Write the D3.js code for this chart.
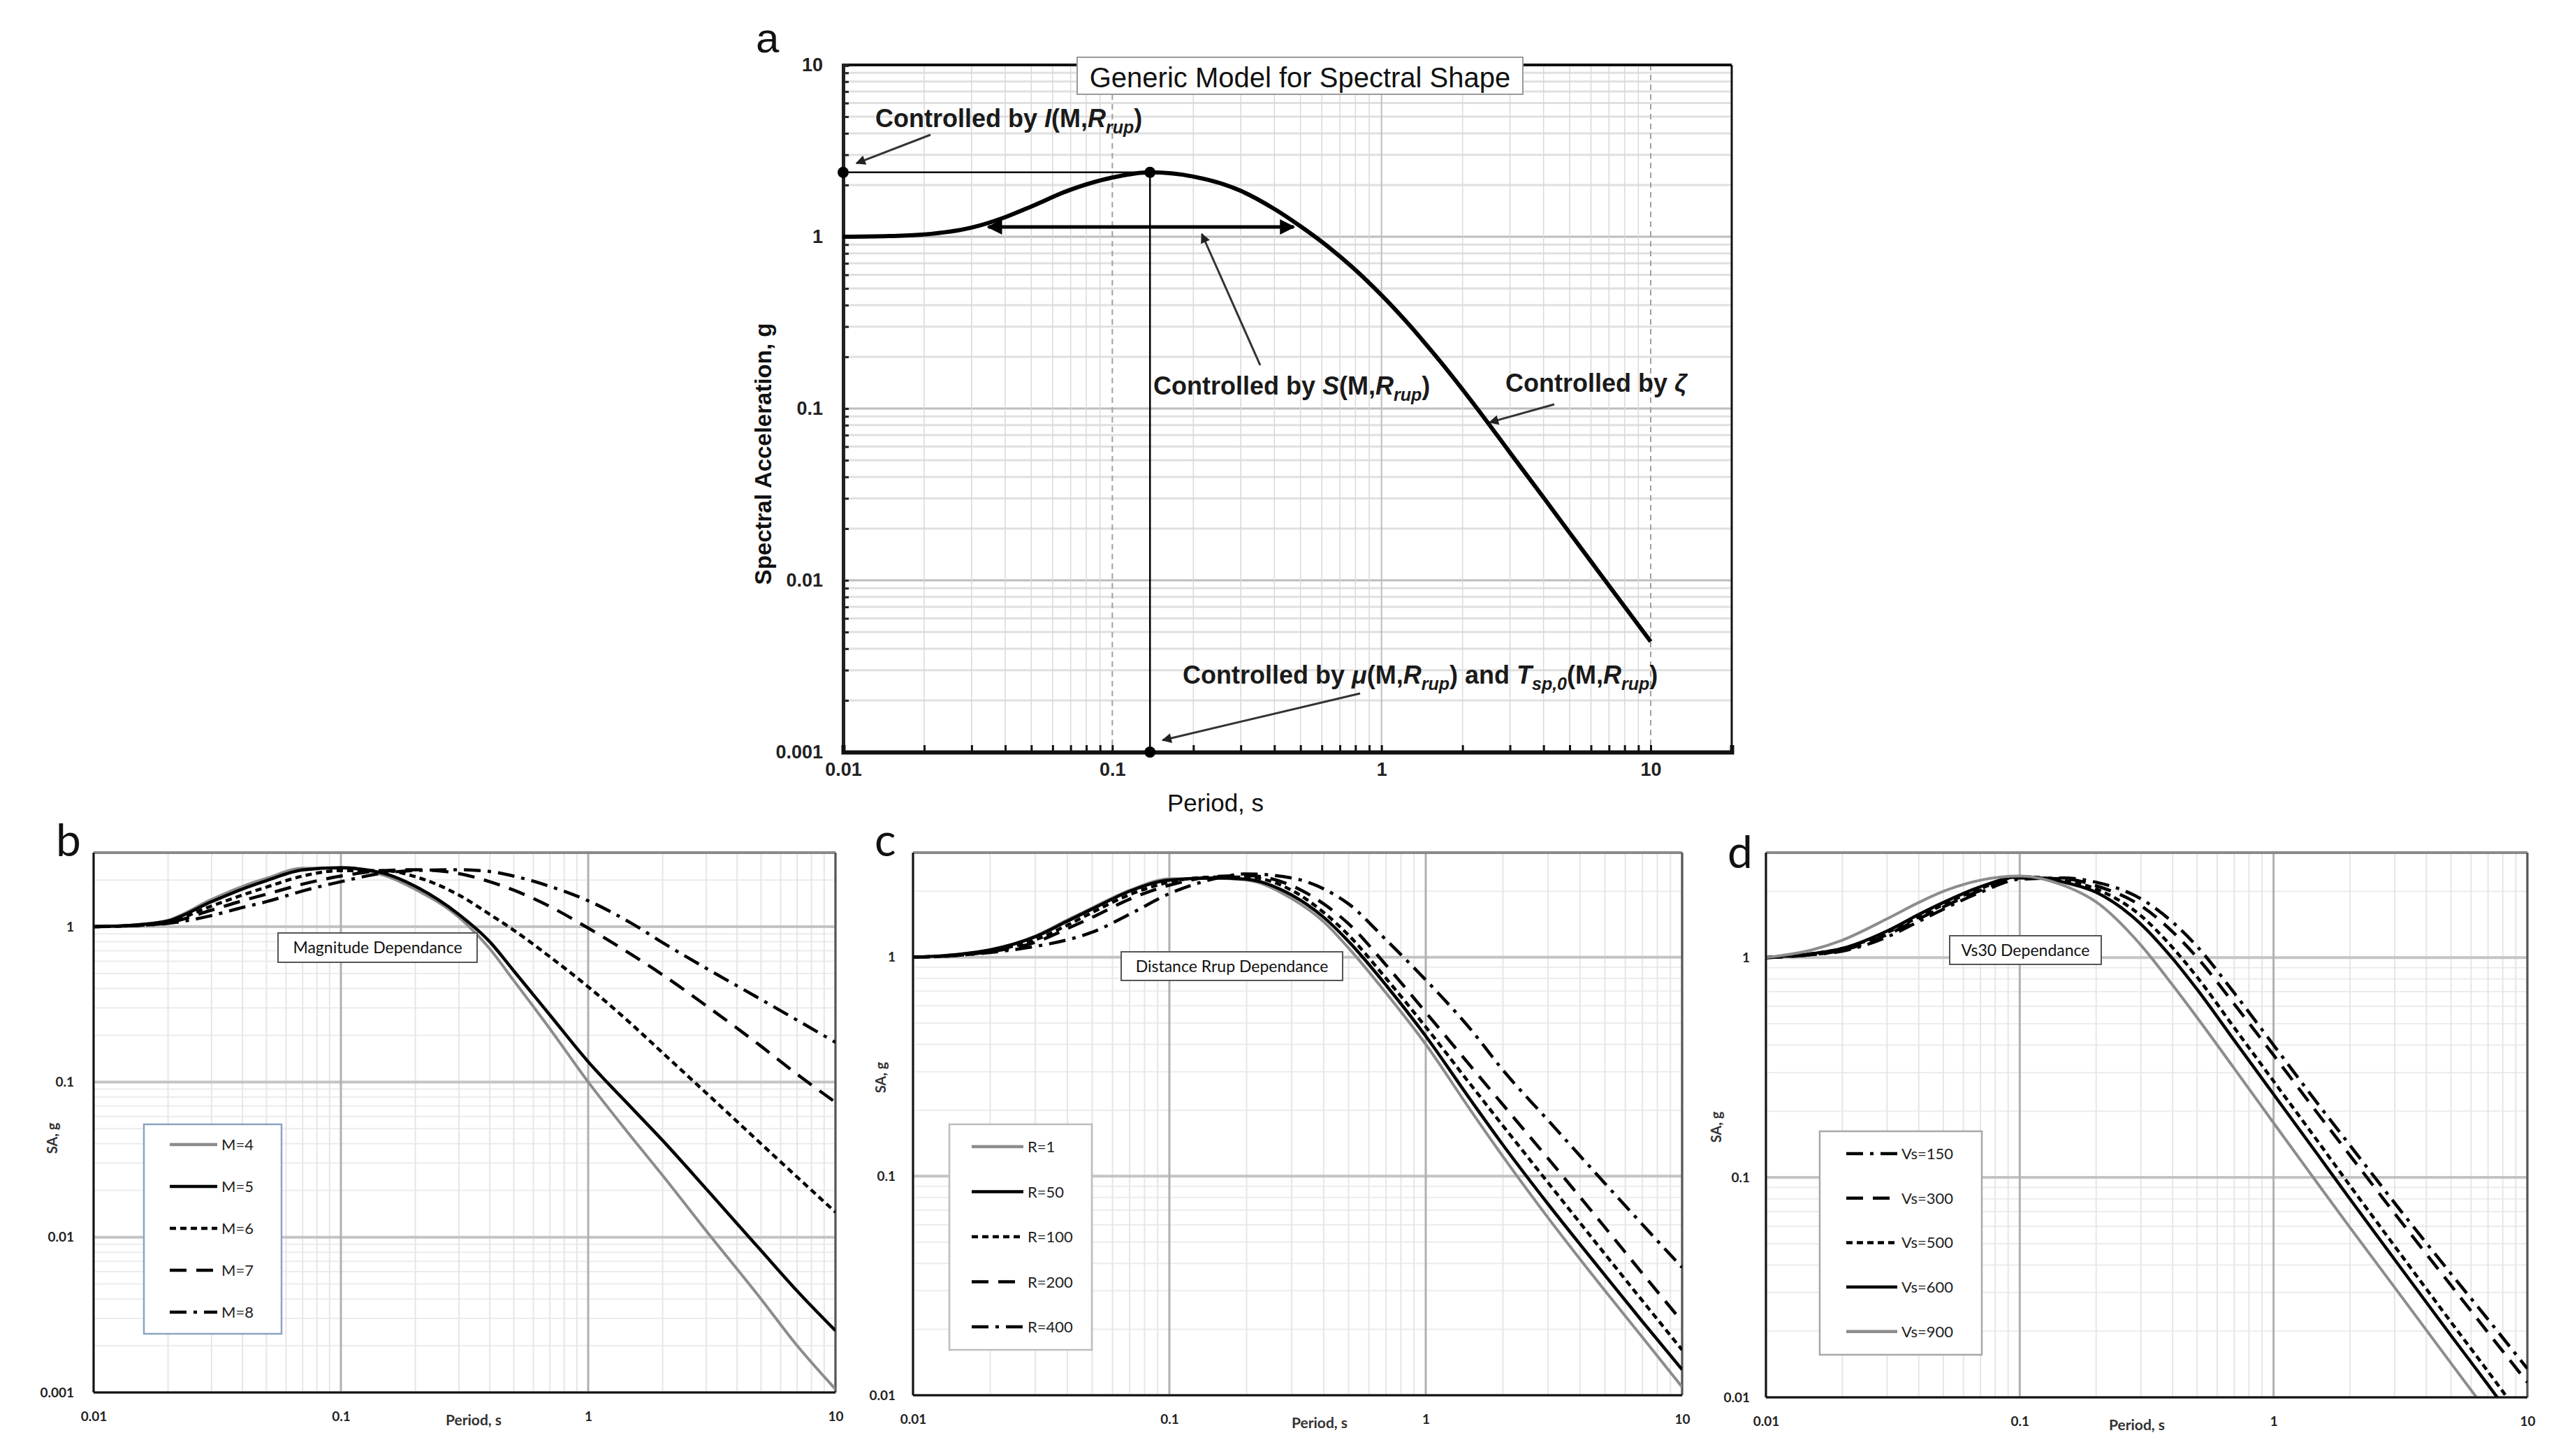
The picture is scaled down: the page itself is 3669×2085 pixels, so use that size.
<!DOCTYPE html>
<html>
<head>
<meta charset="utf-8">
<script src="https://cdn.jsdelivr.net/npm/d3@7"></script>
<style>
  html, body { margin: 0; padding: 0; background: #fff; }
  svg { display: block; }
</style>
</head>
<body>
<svg id="chart" width="3669" height="2085"></svg>
<script>
// ---- panel a : generic model ----
const periodA = [0.01, 0.015, 0.02, 0.03, 0.04, 0.05, 0.07, 0.1, 0.138, 0.2, 0.3, 0.4, 0.5, 0.63, 0.78, 1, 1.22, 1.7, 2.3, 3, 4, 5, 7, 10]
const saA = [1.0, 1.01, 1.03, 1.13, 1.3, 1.5, 1.88, 2.21, 2.37, 2.24, 1.85, 1.45, 1.15, 0.88, 0.664, 0.457, 0.328, 0.178, 0.097, 0.0554, 0.0303, 0.0189, 0.0093, 0.0044]
const peakA = [0.138, 2.37]              // period, SA of the peak
const spreadA = [0.0346, 0.472, 1.14]    // double arrow: from, to, SA level
const xTicksA = [0.01, 0.1, 1, 10]
const xTickTextA = ['0.01', '0.1', '1', '10']
const yTicksA = [0.001, 0.01, 0.1, 1, 10]
const yTickTextA = ['0.001', '0.01', '0.1', '1', '10']

// ---- panels b, c, d ----
const periods = [0.01, 0.015, 0.02, 0.03, 0.04, 0.05, 0.07, 0.1, 0.15, 0.2, 0.3, 0.4, 0.5, 0.7, 1, 1.5, 2, 3, 5, 7, 10]

const magNames = ['M=4', 'M=5', 'M=6', 'M=7', 'M=8']
const saM4 = [1.0, 1.03, 1.1, 1.5, 1.82, 2.05, 2.38, 2.38, 2.14, 1.74, 1.15, 0.72, 0.45, 0.22, 0.1, 0.044, 0.025, 0.011, 0.004, 0.002, 0.00105]
const saM5 = [1.0, 1.03, 1.09, 1.45, 1.75, 1.98, 2.32, 2.4, 2.2, 1.82, 1.2, 0.8, 0.52, 0.27, 0.135, 0.068, 0.042, 0.0205, 0.0082, 0.0045, 0.0025]
const saM6 = [1.0, 1.02, 1.07, 1.36, 1.6, 1.8, 2.12, 2.3, 2.3, 2.1, 1.6, 1.2, 0.95, 0.64, 0.41, 0.235, 0.154, 0.085, 0.04, 0.0244, 0.0145]
const saM7 = [1.0, 1.02, 1.06, 1.28, 1.47, 1.62, 1.88, 2.12, 2.3, 2.33, 2.2, 1.95, 1.72, 1.35, 0.98, 0.66, 0.49, 0.31, 0.17, 0.112, 0.074]
const saM8 = [1.0, 1.02, 1.05, 1.18, 1.33, 1.45, 1.7, 1.95, 2.22, 2.3, 2.33, 2.27, 2.12, 1.82, 1.47, 1.05, 0.79, 0.54, 0.34, 0.25, 0.18]

const distNames = ['R=1', 'R=50', 'R=100', 'R=200', 'R=400']
const saR1 = [1.0, 1.03, 1.08, 1.25, 1.48, 1.68, 2.02, 2.28, 2.29, 2.25, 1.85, 1.45, 1.1, 0.686, 0.4, 0.199, 0.123, 0.0646, 0.03, 0.0184, 0.0109]
const saR50 = [1.0, 1.03, 1.08, 1.24, 1.46, 1.66, 2.0, 2.25, 2.3, 2.27, 1.92, 1.52, 1.18, 0.745, 0.436, 0.222, 0.139, 0.0746, 0.0353, 0.0217, 0.0131]
const saR100 = [1.0, 1.02, 1.07, 1.2, 1.4, 1.6, 1.93, 2.2, 2.32, 2.32, 2.02, 1.6, 1.26, 0.8, 0.48, 0.261, 0.17, 0.0934, 0.0441, 0.027, 0.0161]
const saR200 = [1.0, 1.02, 1.06, 1.17, 1.35, 1.52, 1.84, 2.13, 2.33, 2.36, 2.12, 1.75, 1.42, 0.92, 0.56, 0.317, 0.212, 0.1205, 0.0584, 0.036, 0.0217]
const saR400 = [1.0, 1.02, 1.05, 1.12, 1.2, 1.3, 1.57, 1.95, 2.28, 2.4, 2.3, 2.05, 1.75, 1.2, 0.787, 0.467, 0.305, 0.18, 0.0927, 0.0602, 0.0383]

const vsNames = ['Vs=150', 'Vs=300', 'Vs=500', 'Vs=600', 'Vs=900']
const saVs150 = [1.0, 1.03, 1.07, 1.24, 1.46, 1.66, 1.98, 2.27, 2.3, 2.2, 1.85, 1.45, 1.123, 0.69, 0.4, 0.215, 0.14, 0.0765, 0.0365, 0.0226, 0.0135]
const saVs300 = [1.0, 1.03, 1.08, 1.27, 1.5, 1.7, 2.02, 2.3, 2.28, 2.12, 1.72, 1.31, 1.0, 0.614, 0.36, 0.194, 0.126, 0.0686, 0.0323, 0.0197, 0.0117]
const saVs500 = [1.0, 1.04, 1.1, 1.3, 1.53, 1.74, 2.06, 2.33, 2.24, 2.05, 1.55, 1.11, 0.815, 0.48, 0.274, 0.145, 0.0918, 0.0487, 0.022, 0.0131, 0.0075]
const saVs600 = [1.0, 1.04, 1.1, 1.32, 1.57, 1.78, 2.1, 2.33, 2.2, 1.98, 1.42, 0.99, 0.716, 0.42, 0.239, 0.126, 0.0798, 0.0423, 0.0191, 0.0114, 0.0065]
const saVs900 = [1.0, 1.08, 1.2, 1.5, 1.78, 2.0, 2.25, 2.35, 2.12, 1.79, 1.14, 0.75, 0.533, 0.313, 0.177, 0.093, 0.0592, 0.0316, 0.0143, 0.0085, 0.0049]

const xTicks = [0.01, 0.1, 1, 10]
const xTickText = ['0.01', '0.1', '1', '10']

// line look for each series kind
const looks = {
  gray:    { stroke: '#8c8c8c', dash: null },
  black:   { stroke: '#000', dash: null },
  short:   { stroke: '#000', dash: '9,6' },
  long:    { stroke: '#000', dash: '24,14' },
  dashdot: { stroke: '#000', dash: '24,10,5,10' }
}

const svg = d3.select('#chart')
const isMajor = v => Math.abs(Math.log10(v) - Math.round(Math.log10(v))) < 1e-6
const defs = svg.append('defs')

defs.append('marker').attr('id', 'tip')
  .attr('viewBox', '0 0 10 10').attr('refX', 9).attr('refY', 5)
  .attr('markerWidth', 18).attr('markerHeight', 14)
  .attr('markerUnits', 'userSpaceOnUse').attr('orient', 'auto')
  .append('path').attr('d', 'M0,0 L10,5 L0,10 z').attr('fill', '#222')

defs.append('marker').attr('id', 'bigtip')
  .attr('viewBox', '0 0 10 10').attr('refX', 9).attr('refY', 5)
  .attr('markerWidth', 28).attr('markerHeight', 22)
  .attr('markerUnits', 'userSpaceOnUse').attr('orient', 'auto-start-reverse')
  .append('path').attr('d', 'M0,0 L10,5 L0,10 z').attr('fill', '#000')

// ================= panel a =================
const A = { left: 1207, right: 2479, top: 93, bottom: 1077 }
const ax = d3.scaleLog().domain([0.01, 20]).range([A.left, A.right])
const ay = d3.scaleLog().domain([0.001, 10]).range([A.bottom, A.top])
const ga = svg.append('g')

// horizontal grid
ga.append('g').selectAll('line').data(ay.ticks()).join('line')
  .attr('x1', A.left).attr('x2', A.right)
  .attr('y1', d => ay(d)).attr('y2', d => ay(d))
  .attr('stroke', d => isMajor(d) ? '#bdbdbd' : '#e0e0e0')
  .attr('stroke-width', 3)

// vertical grid
ga.append('g').selectAll('line').data(ax.ticks()).join('line')
  .attr('x1', d => ax(d)).attr('x2', d => ax(d))
  .attr('y1', A.top).attr('y2', A.bottom)
  .attr('stroke', d => isMajor(d) ? (d === 1 ? '#bdbdbd' : '#a0a0a0') : '#d9d9d9')
  .attr('stroke-width', d => isMajor(d) ? 2 : 1.5)
  .attr('stroke-dasharray', d => (isMajor(d) && d !== 1) ? '8,6' : null)

// frame
ga.append('line').attr('x1', A.left).attr('x2', A.right).attr('y1', A.top).attr('y2', A.top)
  .attr('stroke', '#111').attr('stroke-width', 4)
ga.append('line').attr('x1', A.right).attr('x2', A.right).attr('y1', A.top).attr('y2', A.bottom)
  .attr('stroke', '#111').attr('stroke-width', 3)

// left axis with inner minor ticks
const leftA = ga.append('g').attr('transform', `translate(${A.left},0)`)
  .call(d3.axisRight(ay).tickValues(ay.ticks()).tickSize(8).tickFormat(''))
leftA.select('.domain').attr('stroke', '#222').attr('stroke-width', 5)
leftA.selectAll('.tick line').attr('stroke', '#222').attr('stroke-width', 3)

// bottom axis with inner minor ticks
const botA = ga.append('g').attr('transform', `translate(0,${A.bottom})`)
  .call(d3.axisTop(ax).tickValues(ax.ticks()).tickSize(10).tickFormat(''))
botA.select('.domain').attr('stroke', '#111').attr('stroke-width', 6)
botA.selectAll('.tick line').attr('stroke', '#111').attr('stroke-width', 3)

// tick labels
const yLabA = ga.append('g').attr('transform', `translate(${A.left},0)`)
  .call(d3.axisLeft(ay).tickValues(yTicksA).tickFormat((d, i) => yTickTextA[i]).tickSize(0).tickPadding(29))
yLabA.select('.domain').remove()
yLabA.selectAll('text').attr('font-family', 'Liberation Sans, Arial, sans-serif')
  .attr('font-size', 27).attr('font-weight', 'bold').attr('fill', '#222')

const xLabA = ga.append('g').attr('transform', `translate(0,${A.bottom})`)
  .call(d3.axisBottom(ax).tickValues(xTicksA).tickFormat((d, i) => xTickTextA[i]).tickSize(0).tickPadding(15))
xLabA.select('.domain').remove()
xLabA.selectAll('text').attr('font-family', 'Liberation Sans, Arial, sans-serif')
  .attr('font-size', 27).attr('font-weight', 'bold').attr('fill', '#222')

// axis titles
ga.append('text').attr('x', 1740).attr('y', 1162).attr('text-anchor', 'middle')
  .attr('font-family', 'Liberation Sans, Arial, sans-serif').attr('font-size', 35)
  .attr('fill', '#111').text('Period, s')
ga.append('text').attr('transform', 'translate(1104,650) rotate(-90)').attr('text-anchor', 'middle')
  .attr('font-family', 'Liberation Sans, Arial, sans-serif').attr('font-size', 33).attr('font-weight', 'bold')
  .attr('fill', '#111').text('Spectral Acceleration, g')

// peak guide lines
ga.append('line')
  .attr('x1', ax(0.01)).attr('x2', ax(peakA[0]))
  .attr('y1', ay(peakA[1])).attr('y2', ay(peakA[1]))
  .attr('stroke', '#000').attr('stroke-width', 2.5)
ga.append('line')
  .attr('x1', ax(peakA[0])).attr('x2', ax(peakA[0]))
  .attr('y1', ay(peakA[1])).attr('y2', ay(0.001))
  .attr('stroke', '#000').attr('stroke-width', 2.5)

// spectral shape
const lineA = d3.line().x(d => ax(d[0])).y(d => ay(d[1])).curve(d3.curveMonotoneX)
ga.append('path').datum(d3.zip(periodA, saA)).attr('d', lineA)
  .attr('fill', 'none').attr('stroke', '#000').attr('stroke-width', 6)
  .attr('stroke-linejoin', 'round')

// width double arrow
ga.append('line')
  .attr('x1', ax(spreadA[0])).attr('x2', ax(spreadA[1]))
  .attr('y1', ay(spreadA[2])).attr('y2', ay(spreadA[2]))
  .attr('stroke', '#000').attr('stroke-width', 5)
  .attr('marker-start', 'url(#bigtip)').attr('marker-end', 'url(#bigtip)')

// dots
ga.selectAll('.dot').data([[0.01, peakA[1]], peakA, [peakA[0], 0.001]]).join('circle')
  .attr('cx', d => ax(d[0])).attr('cy', d => ay(d[1])).attr('r', 8).attr('fill', '#000')

// annotations
const annFont = 'Liberation Sans, Arial, sans-serif'
function pointer(x1, y1, x2, y2) {
  ga.append('line').attr('x1', x1).attr('y1', y1).attr('x2', x2).attr('y2', y2)
    .attr('stroke', '#333').attr('stroke-width', 3).attr('marker-end', 'url(#tip)')
}
function richText(x, y, parts) {
  const t = ga.append('text').attr('x', x).attr('y', y)
    .attr('font-family', annFont).attr('font-size', 36).attr('font-weight', 'bold').attr('fill', '#1a1a1a')
  let shift = 0
  parts.forEach(p => {
    const s = t.append('tspan').text(p.t)
    if (p.i) s.attr('font-style', 'italic')
    const want = p.sub ? 9 : 0
    if (want !== shift) { s.attr('dy', want - shift); shift = want }
    if (p.sub) s.attr('font-size', 25)
  })
}
const mr = [{ t: '(M,' }, { t: 'R', i: 1 }, { t: 'rup', i: 1, sub: 1 }, { t: ')' }]

richText(1253, 182, [{ t: 'Controlled by ' }, { t: 'I', i: 1 }, ...mr])
pointer(1332, 193, ax(0.01) + 19, ay(peakA[1]) - 13)

richText(1651, 565, [{ t: 'Controlled by ' }, { t: 'S', i: 1 }, ...mr])
pointer(1804, 523, ax(0.215), ay(spreadA[2]) + 10)

richText(2155, 561, [{ t: 'Controlled by ' }, { t: 'ζ', i: 1 }])
pointer(2225, 579, ax(2.52), ay(0.083))

richText(1693, 979, [{ t: 'Controlled by ' }, { t: 'μ', i: 1 }, ...mr, { t: ' and ' },
  { t: 'T', i: 1 }, { t: 'sp,0', i: 1, sub: 1 }, ...mr])
pointer(1947, 993, ax(peakA[0]) + 18, ay(0.001) - 17)

// title box
ga.append('rect').attr('x', 1542).attr('y', 82).attr('width', 638).attr('height', 53)
  .attr('fill', '#fff').attr('stroke', '#9a9a9a').attr('stroke-width', 2)
ga.append('text').attr('x', 1861).attr('y', 125).attr('text-anchor', 'middle')
  .attr('font-family', annFont).attr('font-size', 40).attr('fill', '#111')
  .text('Generic Model for Spectral Shape')

svg.append('text').attr('x', 1082).attr('y', 75)
  .attr('font-family', annFont).attr('font-size', 60).attr('fill', '#111').text('a')

// ================= panels b, c, d =================
const smallFont = 'Lato, Carlito, Calibri, sans-serif'

function drawPanel(p) {
  const x = d3.scaleLog().domain([0.01, 10]).range([p.left, p.right])
  const y = d3.scaleLog().domain(p.yDomain).range([p.bottom, p.top])
  const g = svg.append('g')

  const xt = x.ticks(), yt = y.ticks()
  // minor grid
  g.append('g').selectAll('line').data(yt.filter(v => !isMajor(v))).join('line')
    .attr('x1', p.left).attr('x2', p.right).attr('y1', d => y(d)).attr('y2', d => y(d))
    .attr('stroke', '#ececec').attr('stroke-width', 2)
  g.append('g').selectAll('line').data(xt.filter(v => !isMajor(v))).join('line')
    .attr('x1', d => x(d)).attr('x2', d => x(d)).attr('y1', p.top).attr('y2', p.bottom)
    .attr('stroke', '#e6e6e6').attr('stroke-width', 2)
  // major grid
  g.append('g').selectAll('line').data(yt.filter(isMajor)).join('line')
    .attr('x1', p.left).attr('x2', p.right).attr('y1', d => y(d)).attr('y2', d => y(d))
    .attr('stroke', '#c4c4c4').attr('stroke-width', 4)
  g.append('g').selectAll('line').data(xt.filter(isMajor)).join('line')
    .attr('x1', d => x(d)).attr('x2', d => x(d)).attr('y1', p.top).attr('y2', p.bottom)
    .attr('stroke', '#b0b0b0').attr('stroke-width', 3)

  // frame: grey top/right, black axes
  g.append('line').attr('x1', p.left).attr('x2', p.right).attr('y1', p.top).attr('y2', p.top)
    .attr('stroke', '#8a8a8a').attr('stroke-width', 4)
  g.append('line').attr('x1', p.right).attr('x2', p.right).attr('y1', p.top).attr('y2', p.bottom)
    .attr('stroke', '#555').attr('stroke-width', 3)

  // curves
  const clipId = 'clip-' + p.id
  defs.append('clipPath').attr('id', clipId).append('rect')
    .attr('x', p.left).attr('y', p.top).attr('width', p.right - p.left).attr('height', p.bottom - p.top)
  const line = d3.line().x(d => x(d[0])).y(d => y(d[1])).curve(d3.curveMonotoneX)
  g.append('g').attr('clip-path', `url(#${clipId})`)
    .selectAll('path').data(p.series).join('path')
    .attr('d', s => line(d3.zip(periods, s.values)))
    .attr('fill', 'none')
    .attr('stroke', s => looks[s.look].stroke)
    .attr('stroke-dasharray', s => looks[s.look].dash)
    .attr('stroke-width', s => s.look === 'gray' ? 4 : 4.5)

  // axes
  g.append('line').attr('x1', p.left).attr('x2', p.left).attr('y1', p.top).attr('y2', p.bottom)
    .attr('stroke', '#111').attr('stroke-width', 3)
  g.append('line').attr('x1', p.left).attr('x2', p.right).attr('y1', p.bottom).attr('y2', p.bottom)
    .attr('stroke', '#111').attr('stroke-width', 3)

  const yl = g.append('g').attr('transform', `translate(${p.left},0)`)
    .call(d3.axisLeft(y).tickValues(p.yTicks).tickFormat((d, i) => p.yTickText[i]).tickSize(0).tickPadding(p.yPad))
  yl.select('.domain').remove()
  yl.selectAll('text').attr('font-family', smallFont).attr('font-size', 19).attr('font-weight', 'bold').attr('fill', '#222')

  const xl = g.append('g').attr('transform', `translate(0,${p.bottom})`)
    .call(d3.axisBottom(x).tickValues(xTicks).tickFormat((d, i) => xTickText[i]).tickSize(0).tickPadding(p.xPad))
  xl.select('.domain').remove()
  xl.selectAll('text').attr('font-family', smallFont).attr('font-size', 19).attr('font-weight', 'bold').attr('fill', '#222')

  g.append('text').attr('x', p.periodX).attr('y', p.bottom + 47).attr('text-anchor', 'middle')
    .attr('font-family', smallFont).attr('font-size', 21).attr('font-weight', 'bold').attr('fill', '#333')
    .text('Period, s')
  g.append('text').attr('transform', `translate(${p.saX},${p.saY}) rotate(-90)`).attr('text-anchor', 'middle')
    .attr('font-family', smallFont).attr('font-size', 20).attr('font-weight', 'bold').attr('fill', '#333')
    .text('SA, g')

  // caption box
  const b = p.box
  g.append('rect').attr('x', b.x).attr('y', b.y).attr('width', b.w).attr('height', b.h)
    .attr('fill', '#fff').attr('stroke', '#555').attr('stroke-width', 2)
  g.append('text').attr('x', b.x + b.w / 2).attr('y', b.y + b.h / 2 + 8).attr('text-anchor', 'middle')
    .attr('font-family', smallFont).attr('font-size', 23).attr('fill', '#111').text(b.text)

  // legend
  const L = p.legend
  g.append('rect').attr('x', L.x).attr('y', L.y).attr('width', L.w).attr('height', L.h)
    .attr('fill', '#fff').attr('stroke', L.border).attr('stroke-width', 2.5)
  const items = g.append('g').selectAll('g').data(p.series).join('g')
    .attr('transform', (s, i) => `translate(${L.x + L.lineX},${L.firstY + i * L.step})`)
  items.append('line').attr('x1', 0).attr('x2', L.lineLen).attr('y1', 0).attr('y2', 0)
    .attr('stroke', s => looks[s.look].stroke)
    .attr('stroke-dasharray', s => looks[s.look].dash)
    .attr('stroke-width', 4.5)
  items.append('text').attr('x', L.lineLen + 6).attr('y', 8)
    .attr('font-family', smallFont).attr('font-size', 22).attr('fill', '#222')
    .text(s => s.name)

  svg.append('text').attr('x', p.letter[0]).attr('y', p.letter[1])
    .attr('font-family', smallFont).attr('font-size', 64).attr('fill', '#111').text(p.id)
}

drawPanel({
  id: 'b', left: 134, right: 1196, top: 1221, bottom: 1994, yDomain: [0.001, 3],
  yTicks: [0.001, 0.01, 0.1, 1], yTickText: ['0.001', '0.01', '0.1', '1'], yPad: 28, xPad: 28,
  periodX: 678, saX: 82, saY: 1630, letter: [80, 1226],
  series: [
    { name: magNames[0], values: saM4, look: 'gray' },
    { name: magNames[1], values: saM5, look: 'black' },
    { name: magNames[2], values: saM6, look: 'short' },
    { name: magNames[3], values: saM7, look: 'long' },
    { name: magNames[4], values: saM8, look: 'dashdot' }
  ],
  box: { x: 398, y: 1336, w: 285, h: 42, text: 'Magnitude Dependance' },
  legend: { x: 206, y: 1610, w: 197, h: 300, border: '#8aa4c2', lineX: 37, lineLen: 68, firstY: 1639, step: 60 }
})

drawPanel({
  id: 'c', left: 1307, right: 2408, top: 1221, bottom: 1998, yDomain: [0.01, 3],
  yTicks: [0.01, 0.1, 1], yTickText: ['0.01', '0.1', '1'], yPad: 25, xPad: 28,
  periodX: 1889, saX: 1268, saY: 1543, letter: [1252, 1226],
  series: [
    { name: distNames[0], values: saR1, look: 'gray' },
    { name: distNames[1], values: saR50, look: 'black' },
    { name: distNames[2], values: saR100, look: 'short' },
    { name: distNames[3], values: saR200, look: 'long' },
    { name: distNames[4], values: saR400, look: 'dashdot' }
  ],
  box: { x: 1605, y: 1363, w: 317, h: 41, text: 'Distance Rrup Dependance' },
  legend: { x: 1359, y: 1610, w: 204, h: 323, border: '#bdbdbd', lineX: 32, lineLen: 74, firstY: 1642, step: 64.5 }
})

drawPanel({
  id: 'd', left: 2528, right: 3618, top: 1221, bottom: 2001, yDomain: [0.01, 3],
  yTicks: [0.01, 0.1, 1], yTickText: ['0.01', '0.1', '1'], yPad: 23, xPad: 28,
  periodX: 3059, saX: 2464, saY: 1614, letter: [2473, 1243],
  series: [
    { name: vsNames[0], values: saVs150, look: 'dashdot' },
    { name: vsNames[1], values: saVs300, look: 'long' },
    { name: vsNames[2], values: saVs500, look: 'short' },
    { name: vsNames[3], values: saVs600, look: 'black' },
    { name: vsNames[4], values: saVs900, look: 'gray' }
  ],
  box: { x: 2791, y: 1340, w: 217, h: 41, text: 'Vs30 Dependance' },
  legend: { x: 2605, y: 1620, w: 232, h: 320, border: '#a8a8a8', lineX: 38, lineLen: 73, firstY: 1652, step: 63.7 }
})
</script>
</body>
</html>
